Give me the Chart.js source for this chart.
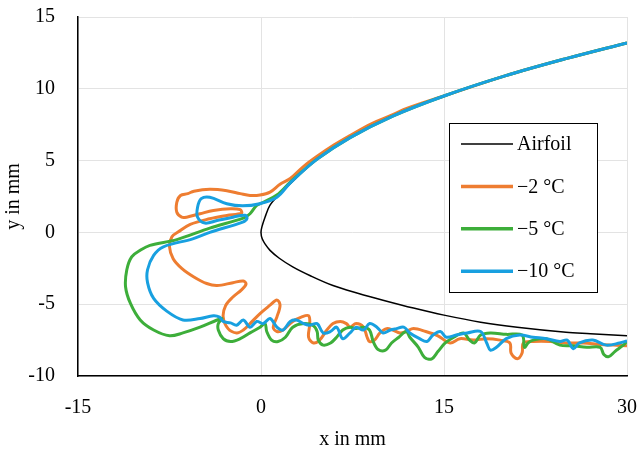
<!DOCTYPE html>
<html>
<head>
<meta charset="utf-8">
<script src="https://cdn.jsdelivr.net/npm/chart.js@4.4.1/dist/chart.umd.min.js"></script>
<style>
  body { margin: 0; background: #fff; }
</style>
</head>
<body>
<canvas id="myChart" width="642" height="458"></canvas>
<script>
// airfoil contour, upper trailing side -> leading edge -> lower side (mm)
const airfoilX = [30, 25, 20, 15, 10.8, 7.3, 4.6, 2.4, 1.56, 0.74, 0.33, 0.08, 0, 0.1, 0.33, 0.74, 1.5, 2.6, 4, 5.9, 8, 10, 12.5, 15, 18, 21, 25, 27, 30];
const airfoilY = [13.2, 12.1, 10.9, 9.5, 8.1, 6.6, 5.1, 3.4, 2.7, 1.9, 1.06, 0.4, 0, -0.45, -0.8, -1.25, -1.8, -2.4, -3.0, -3.7, -4.25, -4.72, -5.27, -5.76, -6.25, -6.6, -6.95, -7.05, -7.2];

// ice shape at -2 °C
const ice2X = [30, 25, 20, 15, 12, 10.8, 9, 7.3, 6, 4.6, 3.5, 2.4, 1.56, 0.74, -0.08, -0.9, -1.7, -2.8, -4.2, -5.5, -6.0, -6.6, -6.9, -6.9, -6.5, -6.1, -5.0, -3.9, -2.5, -1.7, -1.6, -2.8, -4.2, -5.8, -6.8, -7.3, -7.5, -7.2, -6.5, -5.5, -4.45, -3.6, -2.3, -1.45, -1.23, -1.6, -2.3, -2.9, -3.1, -2.7, -2.0, -1.45, -0.9, -0.08, 0.74, 1.3, 1.56, 1.3, 1.0, 1.3, 1.8, 2.6, 3.3, 3.9, 4.0, 3.9, 4.3, 4.8, 5.4, 5.9, 6.5, 7.0, 7.3, 7.8, 8.4, 8.7, 8.9, 9.3, 9.75, 10.3, 10.8, 11.4, 11.9, 12.5, 13.5, 14.5, 15.5, 16.3, 17.4, 18.5, 19.6, 20.4, 20.5, 21.0, 21.4, 21.5, 22.3, 23.7, 25.1, 26.4, 27.8, 28.9, 30];
const ice2Y = [13.2, 12.1, 10.9, 9.5, 8.65, 8.2, 7.55, 6.75, 6.1, 5.3, 4.6, 3.75, 3.35, 2.8, 2.6, 2.57, 2.7, 2.9, 3.0, 2.87, 2.7, 2.57, 2.1, 1.4, 1.06, 1.06, 1.3, 1.53, 1.65, 1.58, 1.34, 1.18, 0.95, 0.56, 0.02, -0.3, -1.0, -1.83, -2.5, -3.1, -3.56, -3.7, -3.5, -3.38, -3.6, -4.0, -4.5, -5.1, -5.9, -6.7, -7.0, -6.8, -6.35, -5.65, -5.07, -4.7, -5.07, -5.9, -6.6, -6.9, -6.8, -6.2, -5.9, -5.8, -6.35, -7.3, -7.7, -7.5, -6.8, -6.35, -6.2, -6.35, -6.6, -6.35, -6.6, -7.3, -7.6, -7.5, -7.0, -6.7, -6.8, -7.0, -6.9, -6.7, -6.9, -7.2, -7.7, -7.4, -7.5, -7.4, -7.5, -7.7, -8.4, -8.8, -8.4, -7.7, -7.6, -7.6, -7.7, -7.7, -7.8, -7.85, -7.9];

// ice shape at -5 °C
const ice5X = [30, 25, 20, 15, 10.8, 7.3, 4.6, 2.4, 1.3, 0.2, -0.35, -0.9, -1.45, -4.2, -6.9, -9.1, -9.9, -10.6, -11.0, -11.1, -10.7, -9.9, -8.8, -7.5, -6.4, -5.0, -3.6, -3.2, -3.5, -3.5, -3.1, -2.5, -1.7, -0.9, -0.08, 0.33, 0.47, 0.87, 1.4, 2.0, 2.6, 3.5, 4.3, 4.6, 4.7, 5.1, 5.7, 6.2, 6.7, 7.3, 7.8, 8.4, 8.9, 9.2, 9.6, 10.2, 10.7, 11.3, 11.9, 12.2, 12.9, 13.4, 14.0, 14.5, 15.1, 15.8, 16.6, 17.1, 17.5, 18.0, 18.8, 20.1, 21.4, 21.6, 21.9, 22.3, 23.4, 24.5, 25.6, 26.7, 27.8, 28.1, 28.5, 29.0, 29.7, 30];
const ice5Y = [13.2, 12.1, 10.9, 9.5, 8.1, 6.6, 5.1, 3.5, 2.6, 2.1, 1.88, 1.3, 1.0, 0.3, -0.5, -0.9, -1.25, -1.7, -2.6, -3.8, -4.95, -6.1, -6.8, -7.2, -7.0, -6.6, -6.1, -6.0, -6.35, -6.8, -7.4, -7.6, -7.4, -7.0, -6.6, -6.35, -6.9, -7.5, -7.6, -7.3, -6.6, -6.35, -6.5, -6.9, -7.5, -7.85, -7.7, -7.3, -6.8, -6.6, -6.7, -6.6, -6.8, -7.6, -8.15, -8.2, -7.7, -7.3, -6.9, -7.3, -8.0, -8.7, -8.8, -8.3, -7.7, -7.3, -7.0, -7.5, -7.7, -7.15, -7.0, -7.1, -7.15, -8.0, -7.7, -7.5, -7.4, -7.85, -7.9, -8.0, -8.0, -8.5, -8.65, -8.3, -7.85, -7.6];

// ice shape at -10 °C
const ice10X = [30, 25, 20, 15, 10.8, 7.3, 4.6, 2.4, 1.3, -0.1, -1.5, -2.8, -4.2, -4.9, -5.2, -5.2, -4.6, -3.6, -2.3, -1.3, -1.15, -1.5, -4.2, -5.6, -8.0, -8.8, -9.3, -9.3, -8.8, -7.7, -6.4, -5.0, -3.9, -3.4, -3.1, -2.5, -2.0, -1.45, -0.9, -0.35, 0.19, 0.74, 1.3, 1.8, 2.4, 2.9, 3.5, 4.0, 4.6, 5.1, 5.7, 6.2, 6.7, 7.3, 7.8, 8.4, 8.9, 9.5, 10.0, 10.6, 11.1, 11.7, 12.2, 13.0, 13.6, 14.1, 14.7, 15.2, 16.0, 16.9, 18.0, 18.5, 18.8, 19.3, 20.1, 21.2, 22.3, 23.4, 24.5, 25.1, 25.6, 26.1, 27.2, 28.3, 29.4, 30];
const ice10Y = [13.2, 12.1, 10.9, 9.5, 8.1, 6.6, 5.1, 3.45, 2.45, 2.0, 1.85, 2.0, 2.45, 2.35, 1.75, 1.06, 0.65, 0.83, 1.06, 1.2, 0.97, 0.72, 0.0, -0.45, -1.0, -1.6, -2.6, -3.5, -4.6, -5.5, -6.1, -6.0, -5.8, -5.9, -6.2, -6.3, -6.46, -6.1, -6.6, -6.2, -6.35, -6.0, -6.6, -6.8, -6.2, -6.1, -6.35, -6.46, -6.35, -7.0, -6.9, -6.6, -7.4, -7.0, -6.6, -6.8, -6.35, -6.6, -7.0, -6.8, -6.7, -6.6, -7.0, -7.4, -7.6, -7.15, -6.9, -7.3, -7.15, -7.0, -6.9, -7.7, -8.2, -8.0, -7.4, -7.15, -7.3, -7.4, -7.6, -7.5, -8.1, -7.7, -7.5, -7.85, -7.7, -7.55];

const xTicks = [-15, 0, 15, 30];
const yTicks = [-10, -5, 0, 5, 10, 15];

const serif = "'Liberation Serif', 'Times New Roman', serif";

function toPoints(xs, ys) {
    return xs.map((x, i) => ({ x: x, y: ys[i] }));
}

const series = [
    { label: 'Airfoil', x: airfoilX, y: airfoilY, color: '#000000', width: 1.5, order: 4 },
    { label: '\u22122 \u00B0C', x: ice2X, y: ice2Y, color: '#EE7D31', width: 3, order: 3 },
    { label: '\u22125 \u00B0C', x: ice5X, y: ice5Y, color: '#3DAE3A', width: 3, order: 2 },
    { label: '\u221210 \u00B0C', x: ice10X, y: ice10Y, color: '#18A0E0', width: 3, order: 1 }
];

// boxed legend inside the plot area
const boxLegend = {
    id: 'boxLegend',
    afterDraw(chart) {
        const c = chart.ctx;
        const left = 449.5, top = 123.5, w = 148, h = 169;
        c.save();
        c.fillStyle = '#fff';
        c.fillRect(left, top, w, h);
        c.strokeStyle = '#000';
        c.lineWidth = 1;
        c.strokeRect(left, top, w, h);
        c.font = '20px ' + serif;
        c.textBaseline = 'middle';
        c.textAlign = 'left';
        chart.data.datasets.forEach((ds, i) => {
            const y = 144 + i * 42.4;
            c.strokeStyle = ds.borderColor;
            c.lineWidth = ds.borderWidth === 3 ? 3.5 : 1.5;
            c.beginPath();
            c.moveTo(461, y);
            c.lineTo(513, y);
            c.stroke();
            c.fillStyle = '#000';
            c.fillText(ds.label, 517, y + 1);
        });
        c.restore();
    }
};

new Chart(document.getElementById('myChart'), {
    type: 'scatter',
    data: {
        datasets: series.map((s) => ({
            label: s.label,
            data: toPoints(s.x, s.y),
            showLine: true,
            borderColor: s.color,
            backgroundColor: s.color,
            borderWidth: s.width,
            pointRadius: 0,
            tension: 0.35,
            order: s.order
        }))
    },
    options: {
        responsive: false,
        animation: false,
        layout: { padding: { top: 17, right: 15, left: 0, bottom: 0 } },
        scales: {
            x: {
                type: 'linear',
                min: -15,
                max: 30,
                afterBuildTicks: (scale) => { scale.ticks = xTicks.map((v) => ({ value: v })); },
                afterFit: (scale) => {
                    scale.height = 82;
                    scale.paddingLeft = 0;
                    scale.paddingRight = 0;
                },
                ticks: { color: '#000', padding: 20, font: { family: serif, size: 20 } },
                grid: { color: '#e3e3e3', drawTicks: false },
                border: { color: '#000', width: 1.5 },
                title: {
                    display: true,
                    text: 'x in mm',
                    color: '#000',
                    font: { family: serif, size: 20 },
                    padding: { top: 0, bottom: 6 }
                }
            },
            y: {
                type: 'linear',
                min: -10,
                max: 15,
                afterBuildTicks: (scale) => { scale.ticks = yTicks.map((v) => ({ value: v })); },
                afterFit: (scale) => {
                    scale.width = 78;
                    scale.paddingTop = 0;
                    scale.paddingBottom = 0;
                },
                ticks: { color: '#000', padding: 23, font: { family: serif, size: 20 } },
                grid: { color: '#e3e3e3', drawTicks: false },
                border: { color: '#000', width: 1.5 },
                title: {
                    display: true,
                    text: 'y in mm',
                    color: '#000',
                    font: { family: serif, size: 20 },
                    padding: { top: 2, bottom: 0 }
                }
            }
        },
        plugins: {
            legend: { display: false },
            tooltip: { enabled: false }
        }
    },
    plugins: [boxLegend]
});
</script>
</body>
</html>
